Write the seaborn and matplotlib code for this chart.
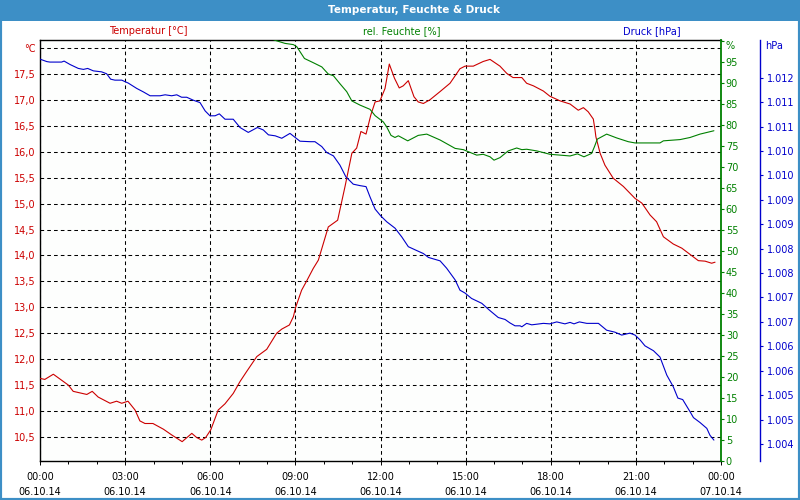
import numpy as np
import pandas as pd
import matplotlib
matplotlib.use("Agg")
import matplotlib.pyplot as plt
import seaborn as sns
from matplotlib.patches import Rectangle
from matplotlib.ticker import FixedLocator, MultipleLocator

# ---------------- data ----------------
temp_hours = [0.00, 0.17, 0.47, 1.00, 1.17, 1.65, 1.84, 2.05, 2.47, 2.70, 2.88, 3.10, 3.35, 3.52,
              3.70, 3.98, 4.35, 4.64, 5.01, 5.35, 5.52, 5.70, 5.84, 6.02, 6.28, 6.52, 6.81, 7.05,
              7.28, 7.64, 7.99, 8.34, 8.52, 8.79, 8.93, 9.01, 9.22, 9.40, 9.63, 9.81, 10.16, 10.49,
              10.75, 10.99, 11.16, 11.31, 11.49, 11.66, 11.81, 11.98, 12.16, 12.31, 12.49, 12.66,
              12.80, 12.98, 13.18, 13.33, 13.51, 13.74, 14.10, 14.45, 14.80, 14.98, 15.27, 15.62,
              15.86, 16.21, 16.45, 16.67, 16.98, 17.15, 17.39, 17.74, 17.97, 18.33, 18.68, 18.97,
              19.15, 19.32, 19.50, 19.56, 19.59, 19.74, 19.91, 20.20, 20.56, 20.97, 21.21, 21.50,
              21.73, 21.97, 22.32, 22.62, 22.91, 23.20, 23.44, 23.67, 23.79]
temp_values = [11.63, 11.61, 11.71, 11.50, 11.38, 11.32, 11.38, 11.27, 11.15, 11.19, 11.15, 11.19, 11.02, 10.81,
               10.76, 10.76, 10.65, 10.54, 10.41, 10.57, 10.49, 10.44, 10.49, 10.64, 11.02, 11.14, 11.34, 11.57,
               11.76, 12.05, 12.19, 12.50, 12.58, 12.66, 12.82, 13.00, 13.33, 13.51, 13.75, 13.91, 14.55, 14.68,
               15.33, 15.97, 16.07, 16.39, 16.34, 16.71, 16.96, 16.98, 17.22, 17.69, 17.42, 17.23,
               17.27, 17.37, 17.06, 16.96, 16.93, 17.00, 17.16, 17.32, 17.60, 17.65, 17.65, 17.74,
               17.78, 17.65, 17.51, 17.43, 17.43, 17.32, 17.27, 17.17, 17.07, 16.98, 16.92, 16.80,
               16.85, 16.77, 16.63, 16.42, 16.29, 15.97, 15.74, 15.49, 15.33, 15.10, 15.01, 14.78,
               14.65, 14.36, 14.22, 14.14, 14.02, 13.90, 13.89, 13.85, 13.87]

hum_hours = [8.18, 8.25, 8.63, 8.93, 9.05, 9.32, 9.63, 9.93, 10.16, 10.34, 10.57, 10.81, 10.99, 11.28,
             11.63, 11.81, 12.10, 12.22, 12.37, 12.51, 12.63, 12.96, 13.33, 13.63, 14.10, 14.63, 14.92,
             15.39, 15.62, 15.86, 16.00, 16.21, 16.50, 16.80, 16.98, 17.15, 17.51, 17.97, 18.33, 18.68,
             18.94, 19.17, 19.44, 19.54, 19.64, 19.97, 20.32, 20.73, 20.97, 21.85, 21.97, 22.56, 22.91,
             23.26, 23.75]
hum_values = [100.6, 100.2, 99.4, 99.1, 98.6, 95.8, 94.8, 93.8, 92.1, 91.7, 89.8, 87.9, 85.7, 84.7,
              83.7, 82.2, 80.7, 79.5, 77.5, 77.0, 77.4, 76.2, 77.5, 77.8, 76.4, 74.4, 74.1,
              72.8, 73.0, 72.4, 71.6, 72.2, 73.8, 74.5, 74.1, 74.2, 73.8, 73.0, 72.8, 72.6,
              73.1, 72.4, 73.2, 74.8, 76.6, 77.8, 76.9, 76.0, 75.7, 75.7, 76.2, 76.5, 77.0,
              77.8, 78.6]

press_hours = [0.00, 0.24, 0.35, 0.76, 0.85, 1.06, 1.35, 1.53, 1.68, 1.88, 2.17, 2.35, 2.49, 2.64, 2.88,
               3.11, 3.41, 3.64, 3.88, 4.23, 4.41, 4.64, 4.82, 4.99, 5.17, 5.40, 5.64, 5.82, 5.99, 6.17,
               6.32, 6.52, 6.81, 7.05, 7.34, 7.66, 7.87, 8.05, 8.29, 8.52, 8.81, 9.16, 9.52, 9.69, 9.93,
               10.10, 10.34, 10.57, 10.78, 11.04, 11.28, 11.49, 11.63, 11.81, 12.01, 12.22, 12.51, 12.75,
               12.98, 13.28, 13.51, 13.69, 14.10, 14.33, 14.63, 14.80, 14.98, 15.21, 15.57, 15.84, 16.15,
               16.39, 16.56, 16.74, 16.92, 16.98, 17.15, 17.33, 17.74, 17.97, 18.21, 18.50, 18.68, 18.82,
               19.01, 19.27, 19.68, 19.97, 20.26, 20.50, 20.79, 20.97, 21.15, 21.32, 21.62, 21.85, 22.09,
               22.32, 22.48, 22.65, 22.91, 23.03, 23.26, 23.50, 23.61, 23.75]
press_values = [1012.38, 1012.33, 1012.32, 1012.32, 1012.34, 1012.27, 1012.19, 1012.17, 1012.19, 1012.14,
                1012.12, 1012.08, 1011.97, 1011.95, 1011.95, 1011.89, 1011.78, 1011.71, 1011.63, 1011.63,
                1011.65, 1011.63, 1011.65, 1011.60, 1011.60, 1011.54, 1011.49, 1011.32, 1011.22, 1011.22,
                1011.26, 1011.15, 1011.15, 1010.98, 1010.88, 1010.98, 1010.93, 1010.83, 1010.81, 1010.76,
                1010.86, 1010.70, 1010.69, 1010.69, 1010.59, 1010.47, 1010.40, 1010.21, 1009.97, 1009.82,
                1009.79, 1009.77, 1009.56, 1009.31, 1009.17, 1009.05, 1008.92, 1008.74, 1008.54, 1008.46,
                1008.40, 1008.32, 1008.25, 1008.10, 1007.86, 1007.65, 1007.59, 1007.48, 1007.38, 1007.24,
                1007.09, 1007.05, 1006.98, 1006.92, 1006.92, 1006.90, 1006.97, 1006.94, 1006.97, 1006.96,
                1007.00, 1006.96, 1006.99, 1006.96, 1007.00, 1006.97, 1006.97, 1006.83, 1006.79, 1006.73,
                1006.77, 1006.73, 1006.63, 1006.51, 1006.41, 1006.28, 1005.91, 1005.67, 1005.44, 1005.41,
                1005.16, 1005.04, 1004.94, 1004.82, 1004.68, 1004.58]

x_tick_hours = [0, 3, 6, 9, 12, 15, 18, 21, 24]
x_tick_labels = ["00:00\n06.10.14", "03:00\n06.10.14", "06:00\n06.10.14", "09:00\n06.10.14",
                 "12:00\n06.10.14", "15:00\n06.10.14", "18:00\n06.10.14", "21:00\n06.10.14",
                 "00:00\n07.10.14"]
temp_ticks = [10.5, 11.0, 11.5, 12.0, 12.5, 13.0, 13.5, 14.0, 14.5, 15.0, 15.5, 16.0, 16.5, 17.0, 17.5, 18.0]
temp_tick_labels = ["10,5", "11,0", "11,5", "12,0", "12,5", "13,0", "13,5", "14,0", "14,5", "15,0",
                    "15,5", "16,0", "16,5", "17,0", "17,5", "°C"]
hum_ticks = [0, 5, 10, 15, 20, 25, 30, 35, 40, 45, 50, 55, 60, 65, 70, 75, 80, 85, 90, 95, 100]
hum_tick_labels = ["0", "5", "10", "15", "20", "25", "30", "35", "40", "45", "50", "55", "60", "65",
                   "70", "75", "80", "85", "90", "95", ""]
press_ticks = [1004.5, 1005.0, 1005.5, 1006.0, 1006.5, 1007.0, 1007.5, 1008.0, 1008.5, 1009.0,
               1009.5, 1010.0, 1010.5, 1011.0, 1011.5, 1012.0]
press_tick_labels = ["1.004", "1.005", "1.005", "1.006", "1.006", "1.007", "1.007", "1.008", "1.008",
                     "1.009", "1.009", "1.010", "1.010", "1.011", "1.011", "1.012"]

title = "Temperatur, Feuchte & Druck"
label_temp = "Temperatur [°C]"
label_hum = "rel. Feuchte [%]"
label_press = "Druck [hPa]"

# ---------------- style ----------------
sns.set_style("white")
plt.rcParams["font.family"] = ["DejaVu Sans"]
plt.rcParams["font.size"] = 7

RED = "#cc0000"
GREEN = "#008000"
BLUE = "#0000cc"
BAR = "#3d8fc6"

W, H = 800, 500
fig = plt.figure(figsize=(8, 5), dpi=100)
fig.patch.set_facecolor("white")


def fx(px):
    return px / W


def fy(py):
    return 1 - py / H


ax = fig.add_axes([fx(40), fy(461), (721 - 40) / W, (461 - 40) / H])
ax.set_facecolor("#fdfefd")
ax2 = ax.twinx()
ax3 = ax.twinx()

df_t = pd.DataFrame({"h": temp_hours, "v": temp_values})
df_h = pd.DataFrame({"h": hum_hours, "v": hum_values})
df_p = pd.DataFrame({"h": press_hours, "v": press_values})

sns.lineplot(data=df_t, x="h", y="v", ax=ax, color=RED, linewidth=0.8, sort=False, estimator=None, zorder=3)
sns.lineplot(data=df_h, x="h", y="v", ax=ax2, color=GREEN, linewidth=0.8, sort=False, estimator=None)
sns.lineplot(data=df_p, x="h", y="v", ax=ax3, color=BLUE, linewidth=0.8, sort=False, estimator=None)

for a in (ax, ax2, ax3):
    a.set_xlabel("")
    a.set_ylabel("")
    a.set_xlim(0, 24)

ax.set_ylim(10.037, 18.154)
ax2.set_ylim(0, 100.2)
ax3.set_ylim(1004.152, 1012.772)

# x axis
ax.xaxis.set_major_locator(FixedLocator(x_tick_hours))
ax.set_xticklabels(x_tick_labels, linespacing=1.6)
ax.xaxis.set_minor_locator(MultipleLocator(1))
ax.tick_params(axis="x", which="major", direction="out", length=3, width=0.7, color="black",
               labelsize=7, labelcolor="black", pad=5, bottom=True)
ax.tick_params(axis="x", which="minor", direction="out", length=2.2, width=0.7, color="black", bottom=True)

# temperature axis
ax.yaxis.set_major_locator(FixedLocator(temp_ticks))
ax.set_yticklabels(temp_tick_labels)
ax.tick_params(axis="y", which="major", length=0, labelsize=7, labelcolor=RED, pad=3, left=True)

# grid
ax.grid(True, which="major", axis="both", color="black", linestyle=(0, (3.5, 3)), linewidth=0.75)
ax.set_axisbelow(True)

for s in ("left", "bottom", "top"):
    ax.spines[s].set_visible(True)
    ax.spines[s].set_color("black")
    ax.spines[s].set_linewidth(1.0)
ax.spines["right"].set_visible(False)

# humidity axis
ax2.yaxis.set_major_locator(FixedLocator(hum_ticks))
ax2.set_yticklabels(hum_tick_labels)
ax2.tick_params(axis="y", which="major", right=True, direction="out", length=2.5, width=0.8,
                color=GREEN, labelsize=7, labelcolor=GREEN, pad=1)
for s in ("left", "bottom", "top"):
    ax2.spines[s].set_visible(False)
ax2.spines["right"].set_visible(True)
ax2.spines["right"].set_color(GREEN)
ax2.spines["right"].set_linewidth(1.3)
ax2.grid(False)

# pressure axis
ax3.spines["right"].set_position(("axes", (760 - 40) / (721 - 40)))
ax3.yaxis.set_major_locator(FixedLocator(press_ticks))
ax3.set_yticklabels(press_tick_labels)
ax3.tick_params(axis="y", which="major", right=True, direction="out", length=2, width=0.8,
                color=BLUE, labelsize=7, labelcolor=BLUE, pad=3)
for s in ("left", "bottom", "top"):
    ax3.spines[s].set_visible(False)
ax3.spines["right"].set_visible(True)
ax3.spines["right"].set_color(BLUE)
ax3.spines["right"].set_linewidth(1.0)
ax3.grid(False)

# title bar and border
fig.patches.append(Rectangle((0, fy(21)), 1, 21 / H, transform=fig.transFigure,
                             facecolor=BAR, edgecolor="none", zorder=0))
fig.patches.append(Rectangle((0, 0), 1, 1, transform=fig.transFigure, fill=False,
                             edgecolor=BAR, linewidth=3, zorder=5))
fig.text(fx(414), fy(10), title, color="white", fontsize=7.5, fontweight="bold",
         ha="center", va="center")

# series captions
fig.text(fx(148), fy(31), label_temp, color=RED, fontsize=7, ha="center", va="center")
fig.text(fx(402), fy(31), label_hum, color=GREEN, fontsize=7, ha="center", va="center")
fig.text(fx(652), fy(31), label_press, color=BLUE, fontsize=7, ha="center", va="center")

# unit labels on the right axes
fig.text(fx(725), fy(46), "%", color=GREEN, fontsize=7, ha="left", va="center")
fig.text(fx(765), fy(46), "hPa", color=BLUE, fontsize=7, ha="left", va="center")

fig.savefig("out.png", dpi=100, facecolor="white")
